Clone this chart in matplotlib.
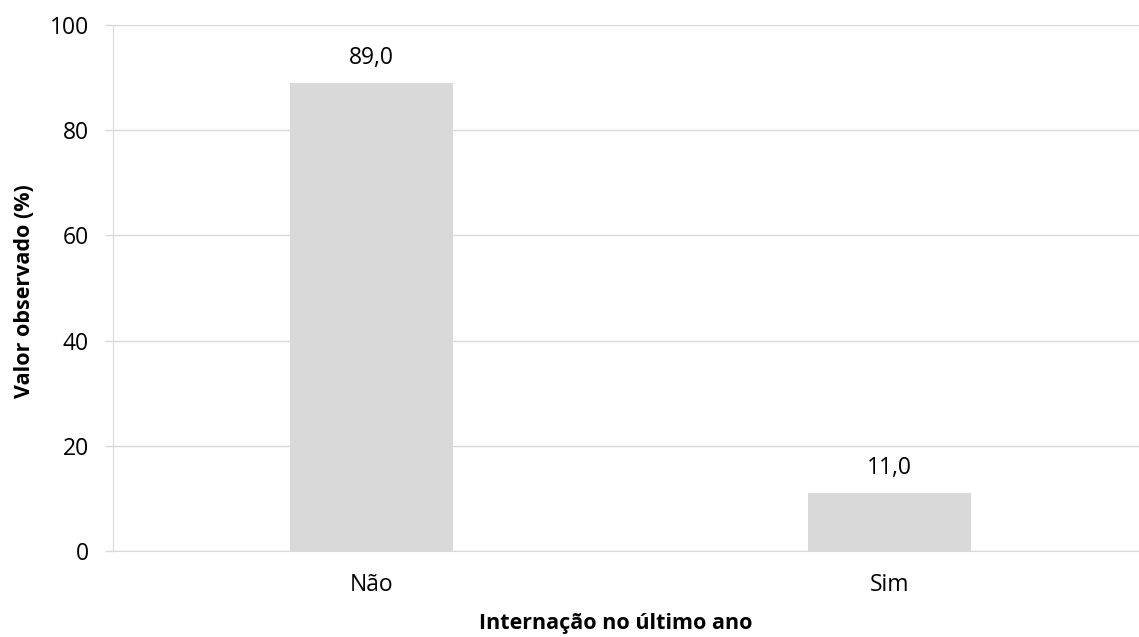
import matplotlib
matplotlib.use("Agg")
import matplotlib.pyplot as plt

categories = ["Não", "Sim"]
values = [89.0, 11.0]
yticks = [0, 20, 40, 60, 80, 100]

plt.rcParams['font.family'] = ['Open Sans', 'DejaVu Sans']

W, H = 1139, 637
fig = plt.figure(figsize=(W/100, H/100), dpi=100)
ax = fig.add_axes([112.5/W, 86/H, 1036/W, 526/H])

x = list(range(len(categories)))
ax.bar(x, values, width=0.315, color='#d9d9d9', zorder=2)
for xi, v in zip(x, values):
    ax.annotate(f"{v:.1f}".replace('.', ','), (xi, v), xytext=(0, 9.5),
                textcoords='offset points', ha='center', va='bottom',
                fontsize=16.5, color='#000000')

ax.set_xlim(-0.5, 1.5)
ax.set_ylim(0, 100)
ax.set_yticks(yticks)
ax.set_yticklabels([str(t) for t in yticks], fontsize=16.5)
ax.set_xticks(x)
ax.set_xticklabels(categories, fontsize=16.5)
ax.yaxis.grid(True, color='#d9d9d9', linewidth=1, zorder=0)
ax.set_axisbelow(True)
ax.tick_params(axis='y', length=6, color='#d9d9d9', width=1, pad=11)
ax.tick_params(axis='x', length=0, pad=16)
for s in ['top', 'right']:
    ax.spines[s].set_visible(False)
ax.spines['left'].set_color('#d9d9d9')
ax.spines['bottom'].set_color('#d9d9d9')

ax.set_ylabel('Valor observado (%)', fontsize=15.5, fontweight='bold')
ax.set_xlabel('Internação no último ano', fontsize=15.5, fontweight='bold')
# place labels at measured pixel centers
ax.yaxis.set_label_coords((25 - 112.5)/1036, (637 - 291 - 86)/526)
ax.xaxis.set_label_coords((616 - 112.5)/1036, (637 - 624 - 86)/526)
ax.xaxis.label.set_va('center')
ax.yaxis.label.set_va('center')

fig.savefig('out.png', dpi=100)
